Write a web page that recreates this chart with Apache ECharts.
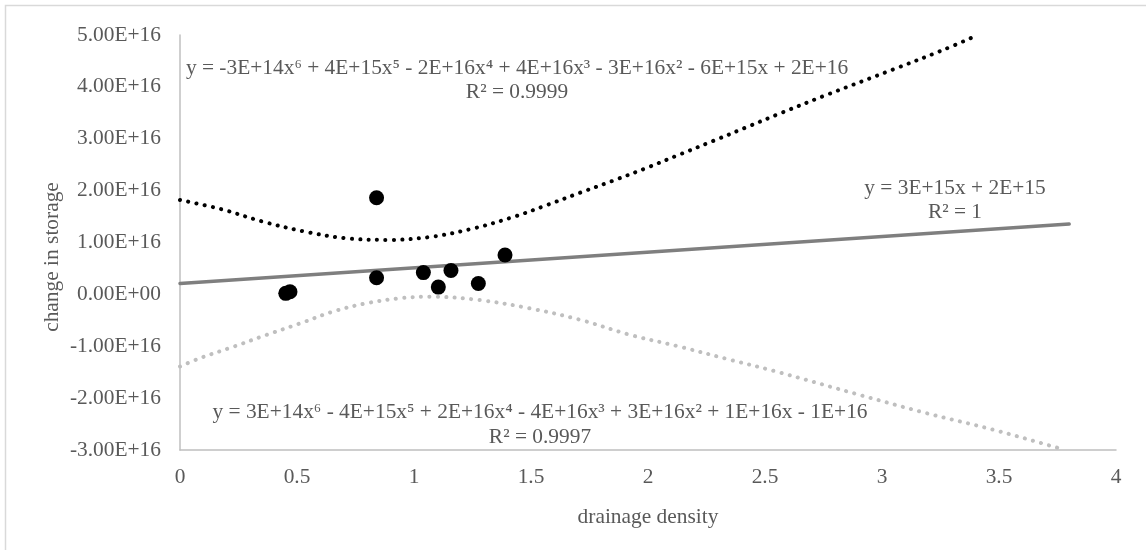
<!DOCTYPE html>
<html>
<head>
<meta charset="utf-8">
<title>drainage density vs change in storage</title>
<script src="https://cdn.jsdelivr.net/npm/echarts@6/dist/echarts.min.js"></script>
<style>
  html, body { margin: 0; padding: 0; background: #ffffff; }
  #chart { width: 1146px; height: 550px; }
</style>
</head>
<body>
<div id="chart"></div>
<script>
// Observed basins: drainage density (x) against change in storage (y)
var densityObs = [0.452, 0.47, 0.84, 0.84, 1.04, 1.104, 1.158, 1.275, 1.389];
var storageObs = [0.02e16, 0.05e16, 1.863e16, 0.32e16, 0.42e16, 0.14e16, 0.46e16, 0.21e16, 0.76e16];

// Linear trend line, drawn between its two end points
var linearX = [0, 3.8];
var linearY = [0.21e16, 1.356e16];

// Upper sixth-order trend curve (black, dotted)
var upperX = [0, 0.178, 0.356, 0.534, 0.712, 0.897, 1.075, 1.253, 1.43, 1.567, 1.71, 1.85, 1.995, 2.137, 2.28, 2.42, 2.56, 2.76, 3.05, 3.26, 3.41];
var upperY = [1.82e16, 1.64e16, 1.40e16, 1.21e16, 1.08e16, 1.05e16, 1.11e16, 1.27e16, 1.50e16, 1.72e16, 1.96e16, 2.19e16, 2.44e16, 2.70e16, 2.96e16, 3.22e16, 3.48e16, 3.84e16, 4.34e16, 4.71e16, 5.0e16];

// Lower sixth-order trend curve (light grey, dotted)
var lowerX = [0, 0.085, 0.228, 0.37, 0.513, 0.655, 0.798, 0.94, 1.068, 1.28, 1.496, 1.71, 1.923, 2.137, 2.35, 2.55, 2.906, 3.19, 3.476, 3.76, 3.78];
var lowerY = [-1.39e16, -1.23e16, -1.01e16, -0.78e16, -0.56e16, -0.33e16, -0.17e16, -0.075e16, -0.044e16, -0.11e16, -0.27e16, -0.49e16, -0.78e16, -1.01e16, -1.26e16, -1.49e16, -1.94e16, -2.29e16, -2.61e16, -2.97e16, -3.0e16];

// Axis ticks and their labels
var xTicks = ['0', '0.5', '1', '1.5', '2', '2.5', '3', '3.5', '4'];
var yTicks = ['-3.00E+16', '-2.00E+16', '-1.00E+16', '0.00E+00', '1.00E+16', '2.00E+16', '3.00E+16', '4.00E+16', '5.00E+16'];

// Trend line equations
var upperEq = 'y = -3E+14x⁶ + 4E+15x⁵ - 2E+16x⁴ + 4E+16x³ - 3E+16x² - 6E+15x + 2E+16';
var upperR2 = 'R² = 0.9999';
var linearEq = 'y = 3E+15x + 2E+15';
var linearR2 = 'R² = 1';
var lowerEq = 'y = 3E+14x⁶ - 4E+15x⁵ + 2E+16x⁴ - 4E+16x³ + 3E+16x² + 1E+16x - 1E+16';
var lowerR2 = 'R² = 0.9997';

var xTitle = 'drainage density';
var yTitle = 'change in storage';

function pairs(xs, ys) {
  return xs.map(function (x, i) { return [x, ys[i]]; });
}

var FONT = '"Liberation Serif", "Times New Roman", serif';
var FS = 21.4;
var TEXT = '#595959';

var chart = echarts.init(document.getElementById('chart'), null, { renderer: 'canvas' });

var yMin = -3e16, yStep = 1e16;

function eqText(str, x, y) {
  return {
    type: 'text', x: x, y: y, z: 10,
    style: { text: str, font: FS + 'px ' + FONT, fill: TEXT, align: 'center', verticalAlign: 'middle' }
  };
}

chart.setOption({
  animation: false,
  backgroundColor: '#ffffff',
  grid: { left: 180, right: 30, top: 35, bottom: 100, containLabel: false },
  xAxis: {
    type: 'value', min: 0, max: 4, interval: 0.5,
    name: xTitle, nameLocation: 'middle', nameGap: 57,
    nameTextStyle: { fontFamily: FONT, fontSize: FS, color: TEXT },
    axisLine: { show: true, onZero: false, lineStyle: { color: '#bfbfbf', width: 1.5 } },
    axisTick: { show: false },
    splitLine: { show: false },
    axisLabel: {
      fontFamily: FONT, fontSize: FS, color: TEXT, margin: 17,
      formatter: function (v) { return xTicks[Math.round(v / 0.5)]; }
    }
  },
  yAxis: {
    type: 'value', min: yMin, max: 5e16, interval: yStep,
    axisLine: { show: true, onZero: false, lineStyle: { color: '#bfbfbf', width: 1.5 } },
    axisTick: { show: false },
    splitLine: { show: false },
    axisLabel: {
      fontFamily: FONT, fontSize: FS, color: TEXT, margin: 19,
      formatter: function (v) { return yTicks[Math.round((v - yMin) / yStep)]; }
    }
  },
  graphic: [
    {
      type: 'rect', z: -1, silent: true,
      shape: { x: 5.5, y: 5.5, width: 1200, height: 600 },
      style: { fill: 'none', stroke: '#d9d9d9', lineWidth: 1.5 }
    },
    {
      type: 'text', x: 52, y: 257, rotation: Math.PI / 2,
      style: { text: yTitle, font: FS + 'px ' + FONT, fill: TEXT, align: 'center', verticalAlign: 'middle' }
    },
    eqText(upperEq, 517, 68),
    eqText(upperR2, 517, 92),
    eqText(linearEq, 955, 188),
    eqText(linearR2, 955, 212),
    eqText(lowerEq, 540, 412),
    eqText(lowerR2, 540, 437)
  ],
  series: [
    {
      name: 'upper trend', type: 'line', smooth: 0.35, showSymbol: false, z: 2,
      data: pairs(upperX, upperY),
      lineStyle: { color: '#000000', width: 4, type: [0.1, 8.3], cap: 'round' }
    },
    {
      name: 'lower trend', type: 'line', smooth: 0.35, showSymbol: false, z: 2,
      data: pairs(lowerX, lowerY),
      lineStyle: { color: '#bfbfbf', width: 4, type: [0.1, 8.3], cap: 'round' }
    },
    {
      name: 'linear trend', type: 'line', showSymbol: false, z: 3,
      data: pairs(linearX, linearY),
      lineStyle: { color: '#7f7f7f', width: 3.5, cap: 'round' }
    },
    {
      name: 'observed', type: 'scatter', z: 4,
      symbol: 'circle', symbolSize: 15,
      data: pairs(densityObs, storageObs),
      itemStyle: { color: '#000000', opacity: 1 }
    }
  ]
});
</script>
</body>
</html>
